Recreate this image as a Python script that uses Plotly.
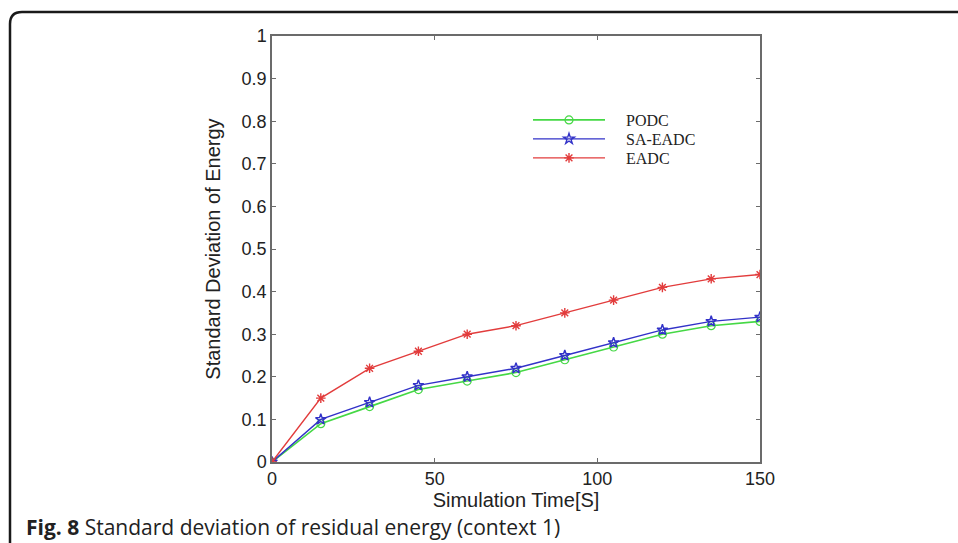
import plotly.graph_objects as go

time_s = [0, 15, 30, 45, 60, 75, 90, 105, 120, 135, 150]
podc = [0, 0.09, 0.13, 0.17, 0.19, 0.21, 0.24, 0.27, 0.30, 0.32, 0.33]
sa_eadc = [0, 0.10, 0.14, 0.18, 0.20, 0.22, 0.25, 0.28, 0.31, 0.33, 0.34]
eadc = [0, 0.15, 0.22, 0.26, 0.30, 0.32, 0.35, 0.38, 0.41, 0.43, 0.44]

y_ticks = [0, 0.1, 0.2, 0.3, 0.4, 0.5, 0.6, 0.7, 0.8, 0.9, 1]
y_labels = ["0", "0.1", "0.2", "0.3", "0.4", "0.5", "0.6", "0.7", "0.8", "0.9", "1"]
x_ticks = [0, 50, 100, 150]

W, H = 958, 543
L, R, T, B = 272, 760, 36, 462

def px(x):
    return (x - L) / (R - L)

def py(y):
    return (B - y) / (B - T)

PAD = "\u00a0\u00a0\u00a0\u00a0"

fig = go.Figure()
fig.add_trace(go.Scatter(x=time_s, y=podc, name=PAD + "PODC", mode="lines+markers", legend="legend",
                         line=dict(color="#45d845", width=1.6),
                         marker=dict(symbol="circle-open", size=8, color="#45d845", line=dict(width=1.2))))
fig.add_trace(go.Scatter(x=time_s, y=sa_eadc, name=PAD + "SA-EADC", mode="lines+markers", legend="legend2",
                         line=dict(color="#3232c8", width=1.4),
                         marker=dict(symbol="star-open", size=8, color="#3232c8", line=dict(width=1.4))))
fig.add_trace(go.Scatter(x=time_s, y=eadc, name=PAD + "EADC", mode="lines+markers", legend="legend3",
                         line=dict(color="#e23c3c", width=1.4),
                         marker=dict(symbol="asterisk-open", size=8, color="#e23c3c", line=dict(width=1.4))))

axis_common = dict(showgrid=False, zeroline=False, showline=True, linecolor="#6b6b6b", linewidth=1.5,
                   mirror="ticks", ticks="inside", ticklen=4, tickcolor="#6b6b6b",
                   tickfont=dict(family="Liberation Sans, Arial", size=18, color="#222"))

legend_common = dict(xanchor="left", yanchor="middle", bgcolor="rgba(0,0,0,0)",
                     font=dict(family="Liberation Serif, Times New Roman", size=16, color="#222"),
                     itemwidth=72)

fig.update_layout(
    width=W, height=H,
    margin=dict(l=L, r=W - R, t=T, b=H - B),
    paper_bgcolor="white", plot_bgcolor="white",
    showlegend=True,
    legend=dict(x=px(528), y=py(120), **legend_common),
    legend2=dict(x=px(528), y=py(139), **legend_common),
    legend3=dict(x=px(528), y=py(158), **legend_common),
    xaxis=dict(range=[0, 150], tickvals=x_ticks, **axis_common,
               title=dict(text="Simulation Time[S]", standoff=0,
                          font=dict(family="Liberation Sans, Arial", size=20, color="#222"))),
    yaxis=dict(range=[0, 1], tickvals=y_ticks, ticktext=y_labels, **axis_common,
               title=dict(text="Standard Deviation of Energy", standoff=16,
                          font=dict(family="Liberation Sans, Arial", size=20, color="#222"))),
)

# outer frame: top and left edges with rounded corner
fig.add_shape(type="path", xref="paper", yref="paper",
              path=f"M {px(10)} {py(545)} L {px(10)} {py(24)} Q {px(10)} {py(12)} {px(22)} {py(12)} L {px(960)} {py(12)}",
              line=dict(color="#1a1a1a", width=2.5))

fig.add_annotation(xref="paper", yref="paper", x=px(24), y=py(527), xanchor="left", yanchor="middle",
                   showarrow=False, align="left",
                   text="<b>Fig. 8</b> Standard deviation of residual energy (context 1)",
                   font=dict(family="Open Sans", size=21, color="#222"))

fig.write_html("out.html")
